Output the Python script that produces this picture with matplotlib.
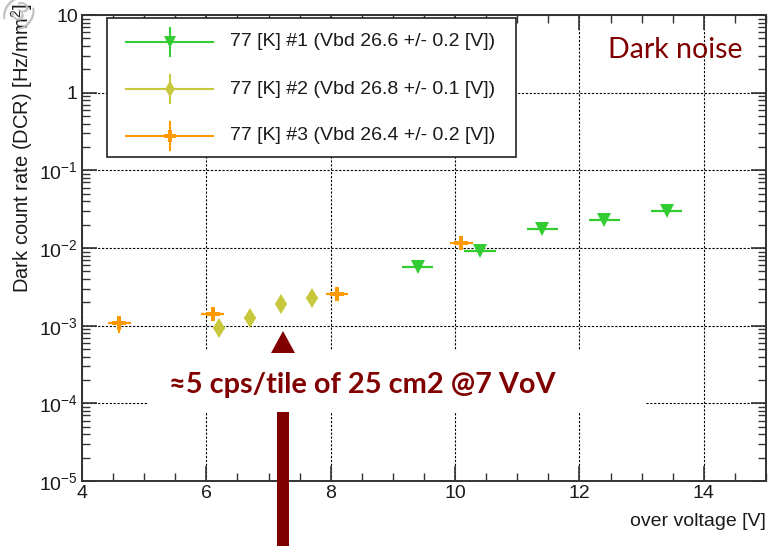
import numpy as np
import matplotlib
matplotlib.use('Agg')
import matplotlib.pyplot as plt
from matplotlib.patches import Rectangle, Polygon
from matplotlib.ticker import FixedLocator, LogLocator, NullFormatter, FuncFormatter

# Dark count rate vs over voltage, three SiPM tiles at 77 K
labels = ['77 [K] #1 (Vbd 26.6 +/- 0.2 [V])',
          '77 [K] #2 (Vbd 26.8 +/- 0.1 [V])',
          '77 [K] #3 (Vbd 26.4 +/- 0.2 [V])']

ov_1 = [9.4, 10.4, 11.4, 12.4, 13.4]
dcr_1 = [5.7e-3, 9.2e-3, 1.77e-2, 2.29e-2, 2.99e-2]
ov_err_1 = [0.25, 0.25, 0.25, 0.25, 0.25]
dcr_err_1 = [0.2e-3, 0.3e-3, 0.5e-3, 0.6e-3, 0.8e-3]

ov_2 = [6.2, 6.7, 7.2, 7.7]
dcr_2 = [9.2e-4, 1.26e-3, 1.88e-3, 2.24e-3]
ov_err_2 = [0.1, 0.1, 0.1, 0.1]
dcr_err_2 = [0.6e-4, 0.8e-4, 1.0e-4, 1.2e-4]

ov_3 = [4.6, 6.1, 8.1, 10.1]
dcr_3 = [1.07e-3, 1.40e-3, 2.57e-3, 1.15e-2]
ov_err_3 = [0.18, 0.18, 0.18, 0.18]
dcr_err_3 = [0.27e-3, 0.25e-3, 0.3e-3, 1.2e-3]

colors = ['#33cc33', '#c8c83c', '#ff9900']
markers = ['v', 'd', 'P']

W, H = 768, 546
plt.rcParams['font.family'] = ['Liberation Sans', 'DejaVu Sans']
plt.rcParams['mathtext.fontset'] = 'custom'
plt.rcParams['mathtext.rm'] = 'Liberation Sans'
plt.rcParams['mathtext.it'] = 'Liberation Sans:italic'

fig = plt.figure(figsize=(W / 100, H / 100), dpi=100)


def fx(px):
    return px / W


def fy(py):
    return 1 - py / H


# frame: x 82..766 px, y 15..481 px
ax = fig.add_axes([fx(82), fy(481), (766 - 82) / W, (481 - 15) / H])
ax.set_yscale('log')
ax.set_xlim(4, 15)
ax.set_ylim(1e-5, 10)

series = [(ov_1, dcr_1, ov_err_1, dcr_err_1),
          (ov_2, dcr_2, ov_err_2, dcr_err_2),
          (ov_3, dcr_3, ov_err_3, dcr_err_3)]
for (x, y, xe, ye), c, m in zip(series, colors, markers):
    ax.errorbar(x, y, xerr=xe, yerr=ye, fmt=m, color=c, ms=10, mew=0,
                elinewidth=1.6, capsize=3.5, capthick=1.6, zorder=4)

ax.xaxis.set_major_locator(FixedLocator([4, 6, 8, 10, 12, 14]))
ax.xaxis.set_minor_locator(FixedLocator(np.arange(4, 15.01, 0.5)))
ax.yaxis.set_major_locator(LogLocator(base=10, numticks=20))
ax.yaxis.set_minor_locator(LogLocator(base=10, subs=np.arange(2, 10), numticks=20))
ax.yaxis.set_minor_formatter(NullFormatter())


def dec_fmt(v, pos):
    e = int(round(np.log10(v)))
    if e == 0:
        return '1'
    if e == 1:
        return '10'
    return r'$10^{%d}$' % e


ax.yaxis.set_major_formatter(FuncFormatter(dec_fmt))
ax.tick_params(which='both', direction='in', top=True, right=True,
               labelsize=14, colors='#333333', labelcolor='#1a1a1a')
ax.tick_params(which='major', length=11, width=1.2)
ax.tick_params(which='minor', length=5.5, width=1.0)
ax.tick_params(axis='x', pad=3)
ax.tick_params(axis='y', pad=3)
for s in ax.spines.values():
    s.set_linewidth(1.4)
    s.set_color('#333333')
ax.grid(True, which='major', color='black', linestyle=(0, (2, 1.5)), linewidth=0.8)

fig.text(fx(22), fy(3), 'Dark count rate (DCR) [Hz/mm$^2$]', rotation=90,
         ha='center', va='top', fontsize=14.5, color='#1a1a1a')
fig.text(fx(766), fy(521), 'over voltage [V]', ha='right', va='center',
         fontsize=14, color='#1a1a1a')

# legend box drawn in pixel coordinates
leg = Rectangle((fx(107), fy(157)), fx(516) - fx(107), fy(18) - fy(157),
                transform=fig.transFigure, facecolor='white', edgecolor='#222222',
                linewidth=1.2, zorder=5)
fig.add_artist(leg)
rows = [42, 89, 136]
for lab, c, m, ry in zip(labels, colors, markers, rows):
    fig.add_artist(plt.Line2D([fx(126), fx(213)], [fy(ry), fy(ry)], color=c,
                              lw=1.5, transform=fig.transFigure, zorder=6))
    fig.add_artist(plt.Line2D([fx(170), fx(170)], [fy(ry - 14), fy(ry + 14)], color=c,
                              lw=1.5, transform=fig.transFigure, zorder=6))
    fig.add_artist(plt.Line2D([fx(170)], [fy(ry)], marker=m, ms=8, mew=0, color=c,
                              transform=fig.transFigure, zorder=7))
    fig.text(fx(230), fy(ry), lab, ha='left', va='center', fontsize=14,
             color='#1a1a1a', zorder=7)

dark_red = '#800000'
fig.text(fx(608), fy(58), 'Dark noise', ha='left', va='baseline', fontsize=20.5,
         family=['Lato', 'DejaVu Sans'], color=dark_red)

# note box with arrow
fig.add_artist(Rectangle((fx(147), fy(412)), fx(646) - fx(147), fy(351) - fy(412),
                         transform=fig.transFigure, facecolor='white',
                         edgecolor='none', zorder=3))
fig.text(fx(169), fy(393), '≈5 cps/tile of 25 cm2 @7 VoV', ha='left', va='baseline',
         fontsize=20.8, fontweight='bold', family=['Lato', 'DejaVu Sans'],
         color=dark_red, zorder=6)
fig.add_artist(Polygon([[fx(271), fy(353)], [fx(295), fy(353)], [fx(283), fy(331)]],
                       closed=True, transform=fig.transFigure, facecolor=dark_red,
                       edgecolor='none', zorder=6))
fig.add_artist(Rectangle((fx(277), 0), fx(289) - fx(277), fy(412),
                         transform=fig.transFigure, facecolor=dark_red,
                         edgecolor='none', zorder=6))

# faint fragment in the top-left corner
fig.text(fx(-4), fy(-6), '(3)', rotation=-35, ha='left', va='top', fontsize=20,
         color='#c0c0c0')

fig.savefig('out.png', dpi=100)
